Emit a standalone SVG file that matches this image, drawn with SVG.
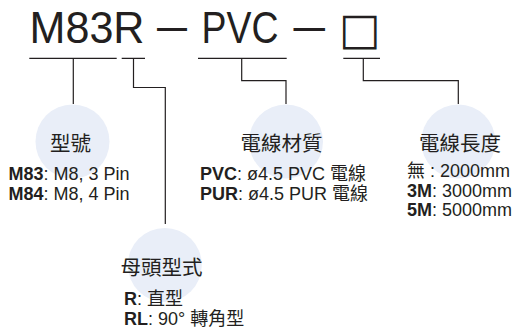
<svg xmlns="http://www.w3.org/2000/svg" width="515" height="328" viewBox="0 0 515 328">
<style>
.t{fill:#231f20;font-family:"Liberation Sans","Noto Sans CJK TC",sans-serif}
.title{font-size:44px}
.h{font-family:"Noto Sans CJK TC","Noto Sans CJK SC",sans-serif;font-size:20.5px;fill:#231f20;text-anchor:middle}
.b{font-size:18px}
.bold{font-weight:bold}
.sq{font-family:"DejaVu Sans",sans-serif}
.c{fill:#e9eef8}
.ln{fill:none;stroke:#231f20;stroke-width:1.2}
</style>
<rect width="515" height="328" fill="#ffffff"/>
<g id="title">
<text class="t title" x="29.5" y="43.3" textLength="115" lengthAdjust="spacingAndGlyphs">M83R</text>
<text class="t title" x="157" y="40.5" textLength="30" lengthAdjust="spacingAndGlyphs">—</text>
<text class="t title" x="201.5" y="43.3" textLength="77" lengthAdjust="spacingAndGlyphs">PVC</text>
<text class="t title" x="293.5" y="40.5" textLength="31.5" lengthAdjust="spacingAndGlyphs">—</text>
<text class="t title sq" x="339" y="44" font-size="48">□</text>
</g>
<g id="connectors">
<path class="ln" d="M29.3 58.3H116.7M121.7 58.3H145M198 58.3H286.7M343.3 58.3H380"/>
<path class="ln" d="M73.3 58.3V104"/>
<path class="ln" d="M133.5 58.3V87.5H165.3V224"/>
<path class="ln" d="M241.7 58.3V80.7H286V104"/>
<path class="ln" d="M363.3 58.3V80.7H458.3V104"/>
</g>
<g id="node-model">
<circle class="c" cx="72.5" cy="141.5" r="37"/>
<text class="h" x="70.5" y="150.5">型號</text>
<text class="t b" x="8.5" y="180"><tspan class="bold">M83</tspan>: M8, 3 Pin</text>
<text class="t b" x="8.5" y="200"><tspan class="bold">M84</tspan>: M8, 4 Pin</text>
</g>
<g id="node-material">
<circle class="c" cx="286" cy="141.5" r="37"/>
<text class="h" x="281.5" y="150.5">電線材質</text>
<text class="t b" x="200" y="180"><tspan class="bold">PVC</tspan>: ø4.5 PVC 電線</text>
<text class="t b" x="200" y="200"><tspan class="bold">PUR</tspan>: ø4.5 PUR 電線</text>
</g>
<g id="node-length">
<circle class="c" cx="458.3" cy="141.5" r="37"/>
<text class="h" x="460" y="150.5">電線長度</text>
<text class="t b" x="407" y="177">無 : 2000mm</text>
<text class="t b" x="407" y="196.5"><tspan class="bold">3M</tspan>: 3000mm</text>
<text class="t b" x="407" y="216"><tspan class="bold">5M</tspan>: 5000mm</text>
</g>
<g id="node-connector">
<circle class="c" cx="164.8" cy="265" r="37"/>
<text class="h" x="161.5" y="275">母頭型式</text>
<text class="t b" x="124" y="305"><tspan class="bold">R</tspan>: 直型</text>
<text class="t b" x="124" y="325"><tspan class="bold">RL</tspan>: 90° 轉角型</text>
</g>
</svg>
